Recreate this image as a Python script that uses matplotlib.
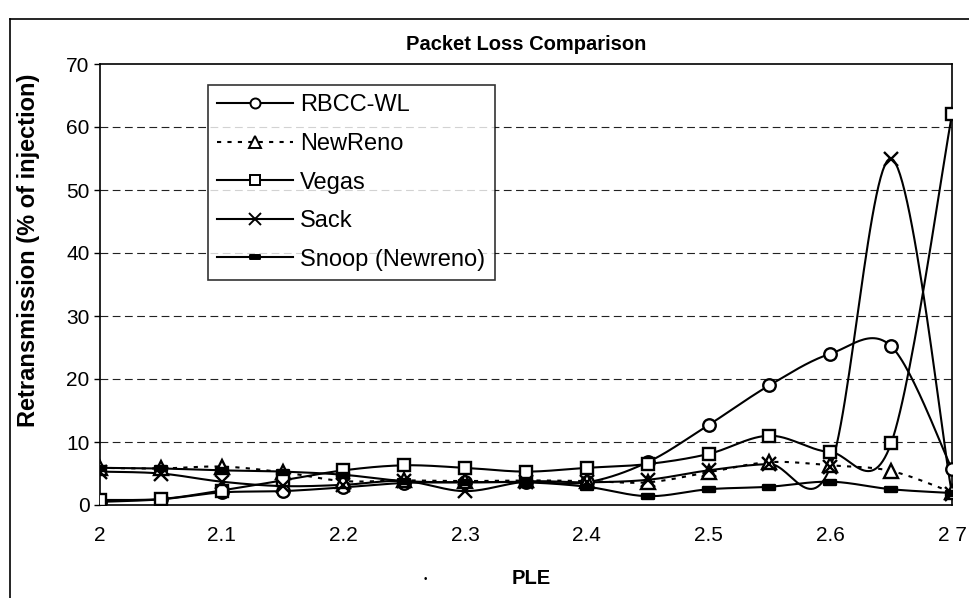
import numpy as np
import matplotlib
matplotlib.use("Agg")
import matplotlib.pyplot as plt
from matplotlib.lines import Line2D
from matplotlib.path import Path

plt.rcParams["font.family"] = ["Liberation Sans", "DejaVu Sans"]

# ---------------------------
# Data
# ---------------------------
ple = [2.00, 2.05, 2.10, 2.15, 2.20, 2.25, 2.30, 2.35, 2.40, 2.45, 2.50, 2.55, 2.60, 2.65, 2.70]

rbcc_wl = [0.5, 0.9, 2.0, 2.2, 2.8, 3.5, 3.6, 3.7, 3.6, 6.8, 12.7, 19.0, 24.0, 25.2, 5.7]
newreno = [5.9, 5.8, 6.1, 5.2, 3.8, 3.9, 3.8, 3.9, 3.8, 3.6, 5.2, 6.8, 6.3, 5.4, 2.0]
vegas = [0.8, 0.95, 2.3, 3.9, 5.5, 6.3, 5.9, 5.3, 5.9, 6.5, 8.1, 11.0, 8.4, 9.8, 62.0]
sack = [5.3, 5.0, 3.7, 3.0, 3.2, 3.8, 2.2, 3.7, 3.6, 4.0, 5.5, 6.5, 6.0, 55.0, 1.7]
snoop = [5.9, 5.8, 5.5, 5.3, 4.8, 3.8, 3.6, 3.6, 2.9, 1.4, 2.5, 2.9, 3.7, 2.5, 1.9]

series_names = ["RBCC-WL", "NewReno", "Vegas", "Sack", "Snoop (Newreno)"]
x_ticks = [2.0, 2.1, 2.2, 2.3, 2.4, 2.5, 2.6, 2.7]
x_tick_labels = ["2", "2.1", "2.2", "2.3", "2.4", "2.5", "2.6", "2 7"]
y_ticks = [0, 10, 20, 30, 40, 50, 60, 70]

XMIN, XMAX, YMIN, YMAX = 2.0, 2.7, 0, 70


# Excel-like smoothed line (cubic Bezier through the points, in screen-like space)
def smooth(xs, ys, n=30):
    px = (np.asarray(xs) - XMIN) / (XMAX - XMIN) * 852
    py = (np.asarray(ys) - YMIN) / (YMAX - YMIN) * 441
    pts = np.column_stack([px, py])
    out = []
    for i in range(len(pts) - 1):
        p0 = pts[i - 1] if i > 0 else pts[i]
        p1 = pts[i]
        p2 = pts[i + 1]
        p3 = pts[i + 2] if i + 2 < len(pts) else pts[i + 1]
        c1 = p1 + (p2 - p0) / 6.0
        c2 = p2 - (p3 - p1) / 6.0
        t = np.linspace(0, 1, n)[:, None]
        seg = ((1 - t) ** 3) * p1 + 3 * ((1 - t) ** 2) * t * c1 + 3 * (1 - t) * t ** 2 * c2 + t ** 3 * p2
        out.append(seg if i == 0 else seg[1:])
    out = np.vstack(out)
    sx = out[:, 0] / 852 * (XMAX - XMIN) + XMIN
    sy = out[:, 1] / 441 * (YMAX - YMIN) + YMIN
    return sx, sy


# filled dash marker for Snoop
dash_marker = Path([(-1, -0.4), (1, -0.4), (1, 0.4), (-1, 0.4), (-1, -0.4)],
                   [Path.MOVETO, Path.LINETO, Path.LINETO, Path.LINETO, Path.CLOSEPOLY])

styles = [
    dict(ls="-", marker="o", ms=9, mfc="white"),
    dict(ls=(0, (2, 3)), marker="^", ms=10, mfc="white"),
    dict(ls="-", marker="s", ms=9, mfc="white"),
    dict(ls="-", marker="x", ms=10, mfc="black"),
    dict(ls="-", marker=dash_marker, ms=9, mfc="black"),
]
all_series = [rbcc_wl, newreno, vegas, sack, snoop]

# ---------------------------
# Figure
# ---------------------------
fig = plt.figure(figsize=(9.69, 5.98), dpi=100)
ax = fig.add_axes([100 / 969, 1 - 505 / 598, 852 / 969, 441 / 598])

for yv in y_ticks[1:-1]:
    ax.axhline(yv, color="#222222", lw=0.8, ls=(0, (7, 4)), zorder=0)

handles = []
for name, ys, st in zip(series_names, all_series, styles):
    sx, sy = smooth(ple, ys)
    ax.plot(sx, sy, color="black", lw=1.5, ls=st["ls"], zorder=2)
    ax.plot(ple, ys, ls="none", marker=st["marker"], ms=st["ms"], mfc=st["mfc"],
            mec="black", mew=1.7, zorder=3)
    handles.append(Line2D([], [], color="black", lw=1.5, ls=st["ls"], marker=st["marker"],
                          ms=st["ms"] * 0.8, mfc=st["mfc"], mec="black", mew=1.4, label=name))

ax.set_xlim(XMIN, XMAX)
ax.set_ylim(YMIN, YMAX)
ax.set_xticks(x_ticks)
ax.set_xticklabels(x_tick_labels)
ax.set_yticks(y_ticks)
ax.tick_params(axis="both", labelsize=15, colors="black", direction="out", length=4, width=1)
ax.tick_params(axis="x", length=0, pad=15)
for sp in ax.spines.values():
    sp.set_linewidth(1.2)
    sp.set_color("black")

ax.set_title("Packet Loss Comparison", fontsize=14.5, fontweight="bold", pad=10)
ax.set_ylabel("Retransmission (% of injection)", fontsize=17, fontweight="bold")
ax.yaxis.set_label_coords((40 - 100) / 852, (505 - 250) / 441)
ax.set_xlabel("PLE", fontsize=14.5, fontweight="bold")
ax.xaxis.set_label_coords((531 - 100) / 852, -(569 - 505) / 441)
fig.text(425 / 969, 1 - 579 / 598, "\u2022", fontsize=7, ha="center", va="center")

leg = fig.legend(handles=handles, loc="upper left", bbox_to_anchor=(208 / 969, 1 - 85 / 598),
                 bbox_transform=fig.transFigure, borderaxespad=0, fontsize=17,
                 frameon=True, fancybox=False, handlelength=3.2, handletextpad=0.3,
                 labelspacing=0.7, borderpad=0.4)
leg.get_frame().set_edgecolor("black")
leg.get_frame().set_linewidth(1.2)

# outer chart border (top and left visible in the scan)
fig.add_artist(Line2D([10 / 969, 10 / 969], [0, 1 - 19 / 598], color="black", lw=1.2,
                      transform=fig.transFigure))
fig.add_artist(Line2D([10 / 969, 1], [1 - 19 / 598, 1 - 19 / 598], color="black", lw=1.2,
                      transform=fig.transFigure))

fig.savefig("out.png", dpi=100)
